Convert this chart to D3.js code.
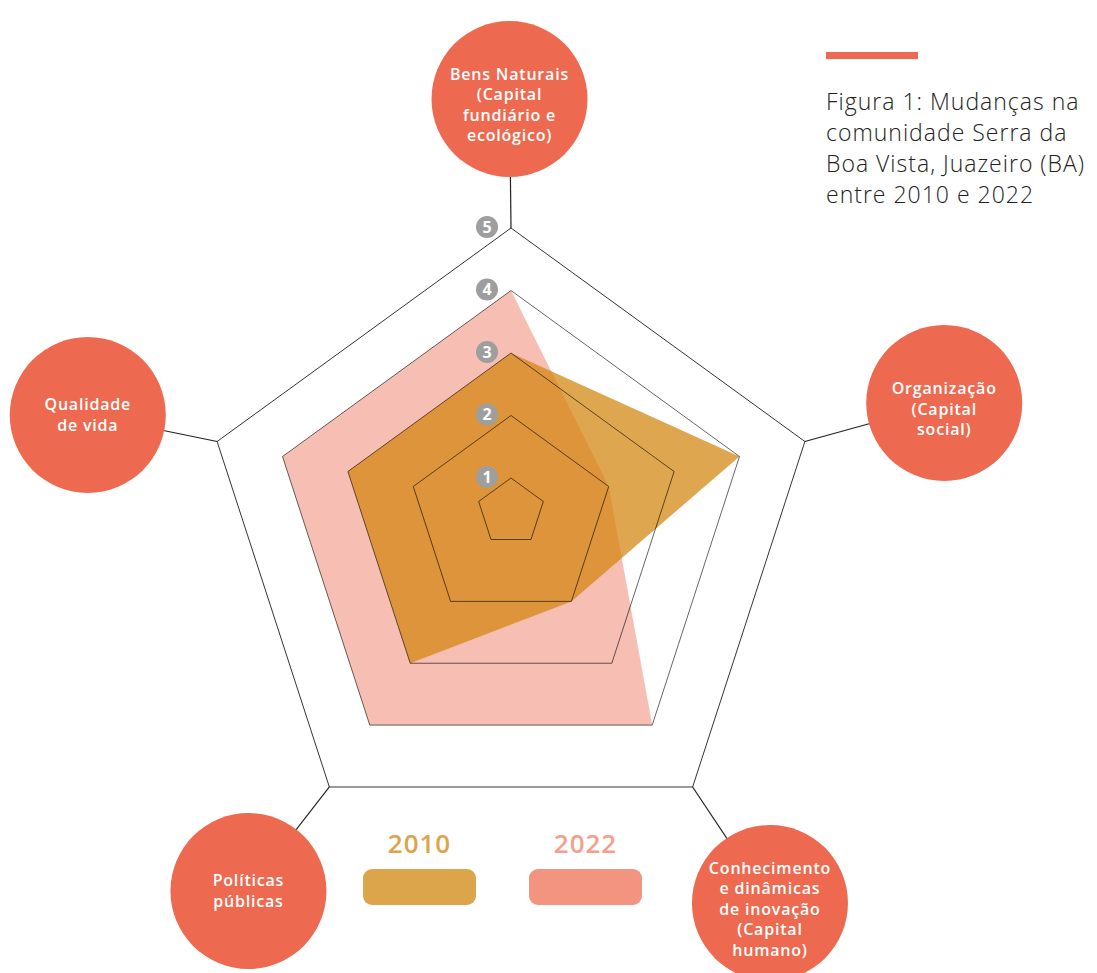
<!DOCTYPE html>
<html>
<head>
<meta charset="utf-8">
<script src="https://cdn.jsdelivr.net/npm/d3@7"></script>
<style>
  body { margin: 0; background: #fff; }
  svg { display: block; font-family: "Open Sans", sans-serif; }
</style>
</head>
<body>
<svg></svg>
<script>
const svg = d3.select('svg')
    .attr('width', 1097)
    .attr('height', 973);

// data
const axisLabels = [
    ['Bens Naturais', '(Capital', 'fundiário e', 'ecológico)'],
    ['Organização', '(Capital', 'social)'],
    ['Conhecimento', 'e dinâmicas', 'de inovação', '(Capital', 'humano)'],
    ['Políticas', 'públicas'],
    ['Qualidade', 'de vida']
];
const levels = [1, 2, 3, 4, 5];
const years = ['2010', '2022'];
const values2010 = [3, 4, 2, 3, 3];
const values2022 = [4, 2, 4, 4, 4];
const titleLines = ['Figura 1: Mudanças na', 'comunidade Serra da', 'Boa Vista, Juazeiro (BA)', 'entre 2010 e 2022'];

// colours
const red = '#ed6a50',
    fill2010 = '#d3830c',
    fill2022 = '#f29480',
    legend2010 = '#dca44b',
    text2022 = '#f3a08d';

// center of the web (the rings are not concentric, each ring sits a bit lower)
const cx = 511;
const r = d3.scaleLinear().domain([1, 5]).range([34, 309]);
const cy = d3.scaleLinear().domain([1, 5]).range([512, 537]);
const angle = d3.scaleLinear().domain([0, axisLabels.length]).range([0, 2 * Math.PI]);

function point(i, v) {
    const a = angle(i);
    return [cx + r(v) * Math.sin(a), cy(v) - r(v) * Math.cos(a)];
}

const line = d3.line().curve(d3.curveLinearClosed);

// spokes from the outer ring to the label circles
const labelDist = 445,
    labelNudge = [[-1.5, 7], [10, 3.5], [-2.6, 6], [-1, -6], [0, 15.5]],
    circleR = 78;
const labelPos = axisLabels.map((d, i) => {
    const a = angle(i);
    return [cx + labelDist * Math.sin(a) + labelNudge[i][0],
            cy(5) - labelDist * Math.cos(a) + labelNudge[i][1]];
});

svg.append('g').selectAll('line')
    .data(axisLabels)
    .join('line')
    .attr('x1', (d, i) => point(i, 5)[0])
    .attr('y1', (d, i) => point(i, 5)[1])
    .attr('x2', (d, i) => labelPos[i][0])
    .attr('y2', (d, i) => labelPos[i][1])
    .attr('stroke', '#222')
    .attr('stroke-width', 1.2);

// series
const series = [
    { values: values2022, color: fill2022, opacity: 0.6 },
    { values: values2010, color: fill2010, opacity: 0.72 }
];
svg.append('g').selectAll('path')
    .data(series)
    .join('path')
    .attr('d', s => line(s.values.map((v, i) => point(i, v))))
    .attr('fill', s => s.color)
    .attr('fill-opacity', s => s.opacity);

// rings on top
svg.append('g').selectAll('path')
    .data(levels)
    .join('path')
    .attr('d', v => line(axisLabels.map((d, i) => point(i, v))))
    .attr('fill', 'none')
    .attr('stroke', '#000')
    .attr('stroke-opacity', v => v === 5 ? 0.8 : 0.6)
    .attr('stroke-width', 1);

// level badges
const badges = svg.append('g').selectAll('g')
    .data(levels)
    .join('g')
    .attr('transform', v => `translate(${cx - 24},${cy(v) - r(v) - 1})`);
badges.append('circle')
    .attr('r', 11)
    .attr('fill', '#9e9e9e');
badges.append('text')
    .attr('text-anchor', 'middle')
    .attr('dy', '0.36em')
    .attr('fill', '#fff')
    .attr('font-size', 16)
    .attr('font-weight', 700)
    .text(v => v);

// label circles
const labels = svg.append('g').selectAll('g')
    .data(axisLabels)
    .join('g')
    .attr('transform', (d, i) => `translate(${labelPos[i][0]},${labelPos[i][1]})`);
labels.append('circle')
    .attr('r', circleR)
    .attr('fill', red);
const lh = 20.5;
labels.append('text')
    .attr('text-anchor', 'middle')
    .attr('fill', '#fff')
    .attr('font-size', 16)
    .attr('font-weight', 600)
    .attr('letter-spacing', 0.8)
    .selectAll('tspan')
    .data(d => d.map((t, j) => ({ t, j, n: d.length })))
    .join('tspan')
    .attr('x', 0)
    .attr('y', d => (d.j - (d.n - 1) / 2) * lh + (d.n > 2 ? 6 : 0))
    .attr('dy', '0.35em')
    .text(d => d.t);

// title
svg.append('rect')
    .attr('x', 826).attr('y', 52)
    .attr('width', 92).attr('height', 7)
    .attr('fill', red);
svg.append('g').selectAll('text')
    .data(titleLines)
    .join('text')
    .attr('x', 826)
    .attr('y', (d, i) => 110 + i * 31)
    .attr('font-size', 23)
    .attr('font-weight', 300)
    .attr('letter-spacing', 1)
    .attr('fill', '#222')
    .text(d => d);

// legend
const legendX = d3.scalePoint().domain(years).range([419.5, 585.5]);
const legendFill = { '2010': legend2010, '2022': fill2022 };
const legendText = { '2010': legend2010, '2022': text2022 };
const leg = svg.append('g').selectAll('g')
    .data(years)
    .join('g')
    .attr('transform', d => `translate(${legendX(d)},0)`);
leg.append('text')
    .attr('text-anchor', 'middle')
    .attr('y', 853)
    .attr('font-size', 26)
    .attr('font-weight', 600)
    .attr('letter-spacing', 1)
    .attr('fill', d => legendText[d])
    .text(d => d);
leg.append('rect')
    .attr('x', -56.5).attr('y', 869)
    .attr('width', 113).attr('height', 36)
    .attr('rx', 9)
    .attr('fill', d => legendFill[d]);
</script>
</body>
</html>
